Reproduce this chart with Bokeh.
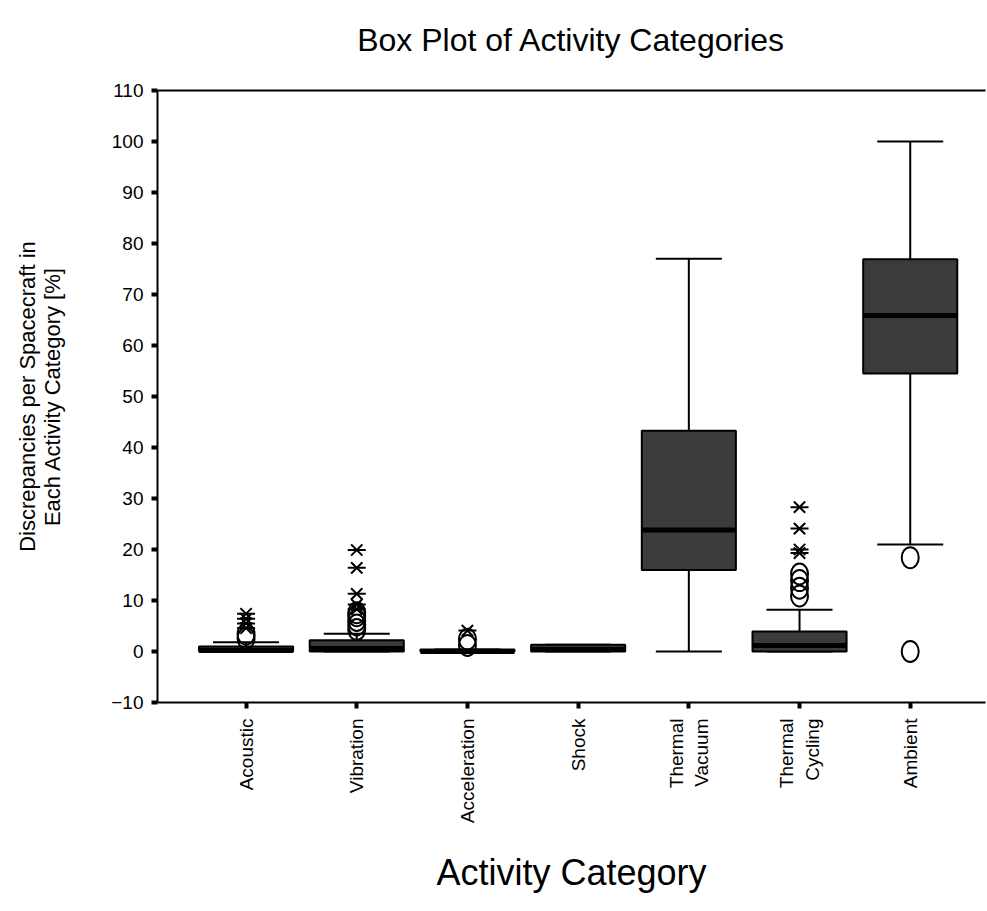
import numpy as np
from bokeh.plotting import figure
from bokeh.models import FixedTicker, ColumnDataSource, LinearAxis
from bokeh.embed import file_html
from bokeh.resources import INLINE

# ---------------- data ----------------
title_text = "Box Plot of Activity Categories"
categories = ["Acoustic", "Vibration", "Acceleration", "Shock",
              "Thermal\nVacuum", "Thermal\nCycling", "Ambient"]
q1 = [0.0, 0.0, 0.0, 0.0, 16.0, 0.0, 54.5]
median = [0.2, 0.6, 0.0, 0.4, 23.8, 1.2, 65.9]
q3 = [1.0, 2.2, 0.4, 1.3, 43.3, 3.9, 76.9]
whisker_low = [0.0, 0.0, 0.0, 0.0, 0.0, 0.0, 21.0]
whisker_high = [1.8, 3.5, 0.4, 1.3, 77.0, 8.2, 100.0]

# outliers (circles) and extreme values (stars)
circle_category = ["Acoustic", "Acoustic",
                   "Vibration", "Vibration", "Vibration", "Vibration", "Vibration",
                   "Acceleration", "Acceleration",
                   "Thermal\nCycling", "Thermal\nCycling", "Thermal\nCycling", "Thermal\nCycling",
                   "Ambient", "Ambient"]
circle_value = [2.6, 3.4,
                4.3, 5.2, 6.1, 7.0, 7.6,
                1.2, 2.4,
                10.9, 12.4, 13.9, 15.2,
                18.4, 0.0]
star_category = ["Acoustic", "Acoustic", "Acoustic", "Acoustic",
                 "Vibration", "Vibration", "Vibration", "Vibration", "Vibration",
                 "Acceleration",
                 "Thermal\nCycling", "Thermal\nCycling", "Thermal\nCycling", "Thermal\nCycling"]
star_value = [4.6, 5.5, 6.4, 7.4,
              8.3, 9.2, 11.3, 16.4, 19.9,
              4.1,
              19.3, 20.0, 24.1, 28.3]

y_ticks = list(range(-10, 111, 10))

# ---------------- build ----------------
pos = {c: i + 1 for i, c in enumerate(categories)}
xs = [pos[c] for c in categories]

box_src = ColumnDataSource(dict(x=xs, q1=q1, q3=q3, med=median,
                                lo=whisker_low, hi=whisker_high))
circ_src = ColumnDataSource(dict(x=[pos[c] for c in circle_category], y=circle_value))
star_src = ColumnDataSource(dict(x=[pos[c] for c in star_category], y=star_value))

FONT = "Liberation Sans"

p = figure(width=987, height=903, x_range=(0.2, 7.68), y_range=(-10, 110),
           output_backend="svg", toolbar_location=None,
           min_border_left=157, min_border_right=2,
           min_border_top=90, min_border_bottom=201)

p.outline_line_color = None
p.xgrid.visible = False
p.ygrid.visible = False
p.background_fill_color = "white"
p.border_fill_color = "white"

bottom_axis = p.below[0]
left_axis = p.left[0]

# top frame line, carrying the chart title as its label
top_axis = LinearAxis(ticker=FixedTicker(ticks=[]), axis_label=title_text,
                      axis_line_color="black", axis_line_width=2,
                      major_tick_line_color=None, minor_tick_line_color=None,
                      major_label_text_font_size="0px",
                      axis_label_text_font=FONT, axis_label_text_font_size="32px",
                      axis_label_text_font_style="normal", axis_label_text_color="black",
                      axis_label_standoff=33)
p.add_layout(top_axis, "above")

# whiskers
p.segment(x0="x", y0="q3", x1="x", y1="hi", source=box_src, line_color="black", line_width=2)
p.segment(x0="x", y0="lo", x1="x", y1="q1", source=box_src, line_color="black", line_width=2)
p.scatter(x="x", y="hi", source=box_src, marker="dash", size=66, line_color="black", line_width=2)
p.scatter(x="x", y="lo", source=box_src, marker="dash", size=66, line_color="black", line_width=2)

# boxes
p.vbar(x="x", width=0.85, bottom="q1", top="q3", source=box_src,
       fill_color="#3b3b3b", line_color="black", line_width=2)
p.rect(x="x", y="med", width=0.85, height=5, height_units="screen", source=box_src,
       fill_color="black", line_color=None)

# outliers
p.ellipse(x="x", y="y", width=17, height=21, width_units="screen", height_units="screen",
          source=circ_src, fill_color=None, line_color="black", line_width=2)
p.scatter(x="x", y="y", source=star_src, marker="x", size=16, line_color="black", line_width=2)
p.scatter(x="x", y="y", source=star_src, marker="dash", size=18, line_color="black", line_width=2)

# axes
for ax in (bottom_axis, left_axis):
    ax.axis_line_width = 2
    ax.axis_line_color = "black"
    ax.major_tick_line_width = 4
    ax.major_tick_line_color = "black"
    ax.major_tick_in = 0
    ax.major_tick_out = 6
    ax.minor_tick_line_color = None
    ax.major_label_text_font = FONT
    ax.major_label_text_font_size = "19px"
    ax.major_label_text_color = "black"
    ax.axis_label_text_font = FONT
    ax.axis_label_text_font_style = "normal"
    ax.axis_label_text_color = "black"

left_axis.ticker = FixedTicker(ticks=y_ticks)
left_axis.major_label_standoff = 8
left_axis.axis_label = "Discrepancies per Spacecraft in\nEach Activity Category [%]"
left_axis.axis_label_text_font_size = "22px"
left_axis.axis_label_text_line_height = 1.0
left_axis.axis_label_standoff = 43

bottom_axis.ticker = FixedTicker(ticks=xs)
bottom_axis.major_label_overrides = {x: c for x, c in zip(xs, categories)}
bottom_axis.major_label_orientation = np.pi / 2
bottom_axis.major_label_standoff = 10
bottom_axis.axis_label = "Activity Category"
bottom_axis.axis_label_text_font_size = "36px"
bottom_axis.axis_label_standoff = 26

open("out.html", "w").write(file_html(p, INLINE))
